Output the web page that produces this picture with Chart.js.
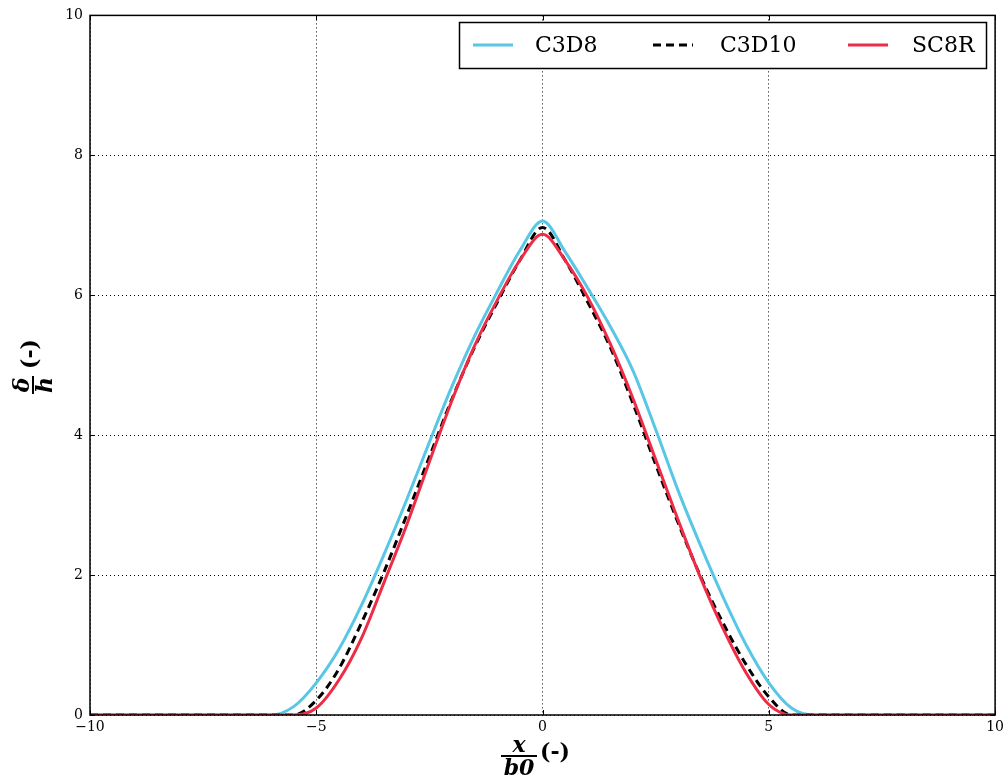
<!DOCTYPE html>
<html>
<head>
<meta charset="utf-8">
<script src="https://cdn.jsdelivr.net/npm/chart.js@4.4.0/dist/chart.umd.min.js"></script>
<style>
  html, body { margin: 0; padding: 0; background: #fff; }
  #wrap { width: 1008px; height: 776px; position: relative; }
</style>
</head>
<body>
<div id="wrap"><canvas id="deflChart" width="1008" height="776"></canvas></div>
<script>
// x / b0 positions where the curves were read
const xPos = [-10, -8, -6, -5.5, -5, -4.5, -4, -3.5, -3, -2.5, -2, -1.5, -1, -0.5, 0,
              0.5, 1, 1.5, 2, 2.5, 3, 3.5, 4, 4.5, 5, 5.5, 6, 8, 10];

// delta / h per element type
const c3d8  = [0, 0, 0, 0.12, 0.46, 0.94, 1.57, 2.3, 3.08, 3.9, 4.7, 5.42, 6.05, 6.64, 7.06,
               6.62, 6.1, 5.55, 4.92, 4.08, 3.2, 2.41, 1.67, 1.0, 0.46, 0.1, 0, 0, 0];
const c3d10 = [0, 0, 0, 0, 0.21, 0.66, 1.32, 2.05, 2.86, 3.69, 4.52, 5.26, 5.9, 6.5, 6.97,
               6.5, 5.9, 5.25, 4.45, 3.58, 2.74, 1.97, 1.3, 0.72, 0.26, 0, 0, 0, 0];
const sc8r  = [0, 0, 0, 0, 0.1, 0.5, 1.1, 1.9, 2.72, 3.62, 4.5, 5.28, 5.93, 6.5, 6.87,
               6.5, 5.97, 5.3, 4.52, 3.65, 2.78, 1.95, 1.22, 0.6, 0.15, 0, 0, 0, 0];

const xTicks = [-10, -5, 0, 5, 10];
const yTicks = [0, 2, 4, 6, 8, 10];
const seriesNames = ['C3D8', 'C3D10', 'SC8R'];

const SERIF = "'DejaVu Serif', 'Liberation Serif', serif";
const pts = ys => xPos.map((x, i) => ({ x, y: ys[i] }));
const fmt = v => (v < 0 ? '\u2212' + Math.abs(v) : String(v));

// box around the plot plus inward ticks
const framePlugin = {
  id: 'frame',
  afterDatasetsDraw(chart) {
    const { ctx, chartArea: a, scales } = chart;
    ctx.save();
    ctx.strokeStyle = '#000';
    ctx.lineWidth = 1;
    ctx.beginPath();
    xTicks.forEach(v => {
      const px = Math.round(scales.x.getPixelForValue(v)) + 0.5;
      ctx.moveTo(px, a.bottom); ctx.lineTo(px, a.bottom - 5);
      ctx.moveTo(px, a.top);    ctx.lineTo(px, a.top + 5);
    });
    yTicks.forEach(v => {
      const py = Math.round(scales.y.getPixelForValue(v)) + 0.5;
      ctx.moveTo(a.left, py);  ctx.lineTo(a.left + 5, py);
      ctx.moveTo(a.right, py); ctx.lineTo(a.right - 5, py);
    });
    ctx.stroke();
    ctx.lineWidth = 1.5;
    ctx.strokeRect(a.left, a.top, a.right - a.left, a.bottom - a.top);
    ctx.restore();
  }
};

// boxed legend in the top-right corner, like the original
const legendPlugin = {
  id: 'boxLegend',
  afterDraw(chart) {
    const { ctx } = chart;
    const lineX = [473, 653, 848];
    const textX = [535, 720, 912];
    const cy = 45;
    ctx.save();
    ctx.fillStyle = '#fff';
    ctx.fillRect(459, 22, 527, 46);
    ctx.strokeStyle = '#000';
    ctx.lineWidth = 1.5;
    ctx.strokeRect(459.5, 22.5, 527, 46);
    chart.data.datasets.forEach((ds, i) => {
      ctx.strokeStyle = ds.borderColor;
      ctx.lineWidth = 3;
      ctx.setLineDash(ds.borderDash || []);
      ctx.beginPath();
      ctx.moveTo(lineX[i], cy);
      ctx.lineTo(lineX[i] + 40, cy);
      ctx.stroke();
      ctx.setLineDash([]);
      ctx.fillStyle = '#000';
      ctx.font = '22px ' + SERIF;
      ctx.textBaseline = 'middle';
      ctx.textAlign = 'left';
      ctx.fillText(ds.label, textX[i], cy + 1);
    });
    ctx.restore();
  }
};

// fraction-style axis titles
const titlePlugin = {
  id: 'fracTitles',
  afterDraw(chart) {
    const { ctx } = chart;
    const frac = (num, den, cx, cy, w) => {
      ctx.font = 'italic bold 22px ' + SERIF;
      ctx.textAlign = 'center';
      ctx.textBaseline = 'alphabetic';
      ctx.fillText(num, cx, cy - 4);
      ctx.textBaseline = 'top';
      ctx.fillText(den, cx, cy + 2);
      ctx.fillRect(cx - w / 2, cy - 1, w, 2);
    };
    ctx.save();
    ctx.fillStyle = '#000';
    // x title
    frac('x', 'b0', 519, 756, 36);
    ctx.font = 'bold 22px ' + SERIF;
    ctx.textAlign = 'left';
    ctx.textBaseline = 'middle';
    ctx.fillText('(-)', 540, 753);
    // y title, rotated
    ctx.translate(33, 368);
    ctx.rotate(-Math.PI / 2);
    frac('\u03b4', 'h', -17, 0, 18);
    ctx.font = 'bold 22px ' + SERIF;
    ctx.textAlign = 'left';
    ctx.textBaseline = 'middle';
    ctx.fillText('(-)', -1, -2);
    ctx.restore();
  }
};

const gridOpts = { color: '#000', lineWidth: 1, drawTicks: false };
const tickFont = { family: SERIF, size: 14 };

new Chart(document.getElementById('deflChart'), {
  type: 'line',
  data: {
    datasets: [
      { label: seriesNames[0], data: pts(c3d8),  borderColor: '#58c7e6', borderWidth: 3, order: 3 },
      { label: seriesNames[1], data: pts(c3d10), borderColor: '#000000', borderWidth: 3, borderDash: [8, 5], order: 2 },
      { label: seriesNames[2], data: pts(sc8r),  borderColor: '#ee2c46', borderWidth: 3, order: 1 }
    ]
  },
  options: {
    responsive: false,
    animation: false,
    elements: {
      point: { radius: 0 },
      line: { cubicInterpolationMode: 'monotone', fill: false }
    },
    layout: { padding: { top: 14, right: 11, left: 0, bottom: 0 } },
    plugins: { legend: { display: false }, tooltip: { enabled: false } },
    scales: {
      x: {
        type: 'linear', min: -10, max: 10,
        afterBuildTicks: s => { s.ticks = xTicks.map(v => ({ value: v })); },
        afterFit: s => { s.height = 61; },
        ticks: { color: '#000', font: tickFont, padding: 4, maxRotation: 0, callback: fmt },
        grid: gridOpts,
        border: { display: false, dash: [1, 3] }
      },
      y: {
        type: 'linear', min: 0, max: 10,
        afterBuildTicks: s => { s.ticks = yTicks.map(v => ({ value: v })); },
        afterFit: s => { s.width = 90; },
        ticks: { color: '#000', font: tickFont, padding: 7, callback: fmt },
        grid: gridOpts,
        border: { display: false, dash: [1, 3] }
      }
    }
  },
  plugins: [framePlugin, legendPlugin, titlePlugin]
});
</script>
</body>
</html>
